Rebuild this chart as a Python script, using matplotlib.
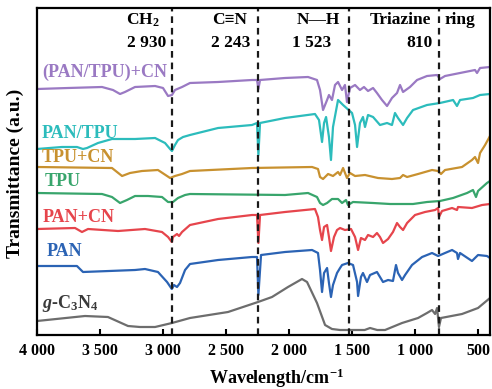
import numpy as np
import matplotlib
matplotlib.use('Agg')
from matplotlib import pyplot as plt

plt.rcParams['font.family'] = ['Liberation Serif', 'DejaVu Serif']
plt.rcParams['font.weight'] = 'bold'
plt.rcParams['mathtext.fontset'] = 'custom'
plt.rcParams['mathtext.rm'] = 'Liberation Serif:bold'
plt.rcParams['mathtext.bf'] = 'Liberation Serif:bold'
plt.rcParams['mathtext.it'] = 'Liberation Serif:bold:italic'

# spectra: wavenumber (cm-1) and transmittance (a.u., offset curves)
wn_cn = [4000, 3619, 3437, 3278, 3183, 3063, 2929, 2786, 2484, 2246, 2135, 2008, 1897, 1857,
         1778, 1714, 1659, 1595, 1400, 1357, 1300, 1238, 1103, 976, 905, 865, 841, 825, 810,
         794, 627, 500, 405]
t_cn = [14, 19, 18, 9, 8, 8, 12, 17, 23, 33, 38, 48, 56, 53, 32, 10, 6, 5, 5, 7, 5, 5, 12,
        17, 22, 25, 21, 27, 8, 17, 21, 27, 37]

wn_pan = [4000, 3683, 3635, 3222, 3143, 3040, 2968, 2930, 2913, 2889, 2865, 2825, 2786, 2563,
          2294, 2254, 2243, 2222, 2032, 1817, 1770, 1754, 1738, 1722, 1698, 1683, 1667, 1651,
          1619, 1595, 1579, 1532, 1492, 1460, 1452, 1429, 1413, 1381, 1357, 1302, 1254, 1214,
          1175, 1151, 1135, 1103, 1079, 1024, 944, 865, 817, 762, 706, 667, 659, 643, 548,
          500, 429, 405]
t_pan = [69, 69, 63, 65, 66, 63, 53, 46, 50, 48, 52, 65, 71, 75, 78, 78, 40, 80, 83, 85,
         82, 65, 43, 62, 67, 52, 38, 50, 62, 67, 70, 72, 70, 53, 39, 58, 62, 53, 60, 63,
         53, 55, 54, 70, 62, 55, 60, 70, 78, 82, 79, 82, 85, 82, 76, 82, 74, 80, 79, 77]

wn_pancn = [4000, 3698, 3643, 3595, 3357, 3143, 3008, 2960, 2930, 2921, 2889, 2873, 2849, 2786,
            2563, 2294, 2254, 2243, 2230, 2032, 1794, 1770, 1754, 1738, 1722, 1698, 1683, 1667,
            1643, 1619, 1595, 1556, 1508, 1476, 1452, 1429, 1397, 1373, 1333, 1302, 1278, 1254,
            1214, 1175, 1143, 1119, 1095, 1063, 1000, 921, 841, 817, 810, 786, 706, 667, 659,
            548, 468, 405]
t_pancn = [106, 107, 103, 106, 104, 106, 103, 98, 93, 98, 101, 99, 103, 110, 116, 120, 120, 92,
           120, 123, 126, 118, 105, 95, 108, 110, 98, 84, 98, 105, 107, 105, 106, 98, 85, 97,
           95, 100, 98, 102, 98, 92, 96, 103, 112, 108, 105, 112, 120, 123, 125, 127, 118, 124,
           127, 125, 128, 127, 130, 131]

wn_tpu = [4000, 3484, 3405, 3341, 3286, 3222, 3119, 3008, 2960, 2921, 2881, 2825, 2786, 2032,
          1849, 1778, 1754, 1730, 1698, 1659, 1611, 1579, 1548, 1532, 1492, 1333, 1198, 1016,
          905, 802, 698, 587, 540, 516, 500, 429, 405]
t_tpu = [142, 141, 138, 132, 135, 139, 139, 138, 133, 133, 137, 140, 141, 140, 142, 138, 132,
         130, 132, 136, 136, 132, 135, 130, 133, 132, 131, 131, 133, 134, 137, 142, 145, 138,
         144, 152, 154]

wn_tpucn = [4000, 3405, 3325, 3262, 3167, 3040, 2968, 2944, 2905, 2849, 2786, 2294, 1817, 1770,
            1754, 1730, 1690, 1651, 1611, 1595, 1571, 1540, 1516, 1476, 1397, 1294, 1183, 1119,
            1095, 1063, 976, 865, 817, 794, 762, 627, 548, 524, 500, 484, 444, 405]
t_tpucn = [168, 167, 159, 162, 164, 165, 159, 157, 159, 161, 164, 167, 168, 166, 158, 156, 161,
           159, 163, 160, 167, 157, 162, 159, 160, 157, 156, 157, 160, 158, 161, 165, 164, 161,
           165, 168, 175, 178, 172, 182, 190, 199]

wn_pantpu = [4000, 3802, 3683, 3635, 3603, 3516, 3405, 3222, 3063, 2984, 2944, 2929, 2905, 2881,
             2841, 2786, 2563, 2294, 2254, 2243, 2230, 2032, 1794, 1762, 1738, 1722, 1706, 1683,
             1667, 1651, 1611, 1571, 1500, 1476, 1460, 1437, 1413, 1397, 1373, 1333, 1278, 1222,
             1183, 1159, 1135, 1095, 1063, 1016, 905, 802, 698, 667, 643, 540, 484, 405]
t_pantpu = [186, 188, 188, 186, 187, 192, 196, 196, 197, 192, 186, 184, 190, 195, 198, 200, 207,
            210, 212, 180, 212, 217, 221, 215, 193, 212, 218, 198, 175, 208, 235, 230, 222, 210,
            188, 212, 218, 208, 220, 218, 210, 212, 210, 222, 217, 210, 217, 225, 230, 232, 235,
            229, 235, 237, 240, 241]

wn_all = [4000, 3754, 3484, 3397, 3341, 3302, 3222, 3063, 3000, 2960, 2929, 2905, 2849, 2786,
          2563, 2294, 2254, 2243, 2230, 2032, 1849, 1778, 1754, 1730, 1698, 1683, 1659, 1635,
          1611, 1579, 1556, 1540, 1516, 1476, 1437, 1405, 1373, 1333, 1302, 1262, 1222, 1183,
          1143, 1119, 1095, 1040, 984, 905, 825, 802, 762, 643, 524, 508, 484, 405]
t_all = [246, 247, 248, 245, 241, 243, 248, 249, 247, 239, 240, 245, 248, 252, 253, 255, 255,
         246, 255, 257, 258, 255, 245, 225, 235, 240, 235, 250, 253, 245, 250, 233, 247, 250,
         245, 248, 244, 247, 242, 235, 229, 237, 242, 250, 243, 248, 255, 259, 260, 256, 259,
         262, 265, 262, 267, 268]

marker_wn = [2930, 2243, 1523, 810]
xticks = [4000, 3500, 3000, 2500, 2000, 1500, 1000, 500]
xticklabels = ['4 000', '3 500', '3 000', '2 500', '2 000', '1 500', '1 000', '500']

fig = plt.figure(figsize=(4.92, 3.89), dpi=100)
ax = fig.add_axes([37 / 492, 54 / 389, 453 / 492, 327 / 389])

series = [
    (wn_cn, t_cn, '#6d6d6d'),
    (wn_pan, t_pan, '#2b63b4'),
    (wn_pancn, t_pancn, '#e6454c'),
    (wn_tpu, t_tpu, '#38a56c'),
    (wn_tpucn, t_tpucn, '#c8912f'),
    (wn_pantpu, t_pantpu, '#2cbcbc'),
    (wn_all, t_all, '#9a79c3'),
]
for wn, t, c in series:
    ax.plot(wn, t, color=c, lw=1.6, solid_joinstyle='round')

for w in marker_wn:
    ax.axvline(w, color='#1a1a1a', lw=1.6, dashes=(3, 2.2))

ax.set_xlim(4000, 405)
ax.set_ylim(0, 327)

fs = 13
ax.text(3960, 263, '(PAN/TPU)+CN', color='#9a79c3', fontsize=fs, va='center')
ax.text(3960, 202, 'PAN/TPU', color='#2cbcbc', fontsize=fs, va='center')
ax.text(3960, 177, 'TPU+CN', color='#c8912f', fontsize=fs, va='center')
ax.text(3937, 153, 'TPU', color='#38a56c', fontsize=fs, va='center')
ax.text(3952, 118, 'PAN+CN', color='#e6454c', fontsize=fs, va='center')
ax.text(3921, 83, 'PAN', color='#2b63b4', fontsize=fs, va='center')
ax.text(3960, 32, r'$g$-C$_3$N$_4$', color='#3a3a3a', fontsize=fs, va='center')

fa = 12.5
ax.text(3159, 315, r'CH$_2$', fontsize=fa, ha='center', va='center')
ax.text(3127, 292, '2 930', fontsize=fa, ha='center', va='center')
ax.text(2468, 315, 'C\u2261N', fontsize=fa, ha='center', va='center')
ax.text(2460, 292, '2 243', fontsize=fa, ha='center', va='center')
ax.text(1770, 315, 'N\u2014H', fontsize=fa, ha='center', va='center')
ax.text(1817, 292, '1 523', fontsize=fa, ha='center', va='center')
ax.text(1119, 315, 'Triazine', fontsize=fa, ha='center', va='center')
ax.text(643, 315, 'ring', fontsize=fa, ha='center', va='center')
ax.text(968, 292, '810', fontsize=fa, ha='center', va='center')

ax.set_xticks(xticks)
ax.set_xticklabels(xticklabels, fontsize=11.5, fontweight='bold')
ax.set_yticks([])
ax.tick_params(axis='x', direction='in', length=4, width=1.5, pad=6)
for s in ax.spines.values():
    s.set_linewidth(1.6)

fig.text(277 / 492, 1 - 378 / 389, r'Wavelength/cm$^{-1}$', fontsize=13,
         fontweight='bold', ha='center', va='center')
fig.text(15 / 492, 1 - 173 / 389, 'Transmittance (a.u.)', fontsize=14,
         fontweight='bold', ha='center', va='center', rotation=90)

fig.savefig('out.png', dpi=100)
